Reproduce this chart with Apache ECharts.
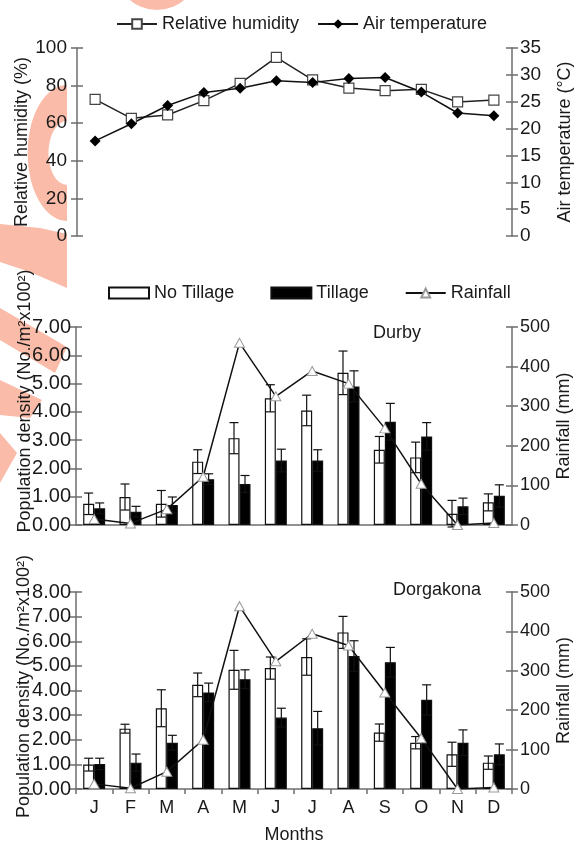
<!DOCTYPE html>
<html>
<head>
<meta charset="utf-8">
<script src="https://cdn.jsdelivr.net/npm/echarts@6/dist/echarts.min.js"></script>
<style>
  html, body { margin: 0; padding: 0; background: #fff; }
  #main { width: 578px; height: 844px; }
</style>
</head>
<body>
<div id="main"></div>
<script>
const months = ['J', 'F', 'M', 'A', 'M', 'J', 'J', 'A', 'S', 'O', 'N', 'D'];

// climate (top panel)
const humidity = [72.7, 62.6, 64.4, 72.0, 81.2, 95.0, 83.0, 78.7, 77.3, 78.0, 71.3, 72.3];
const airTemp = [17.7, 20.9, 24.3, 26.7, 27.5, 28.9, 28.6, 29.3, 29.5, 26.8, 22.9, 22.4];

// Durby
const durbyNoTill = [0.75, 0.99, 0.75, 2.24, 3.07, 4.48, 4.05, 5.38, 2.66, 2.39, 0.40, 0.80];
const durbyNoTillErr = [0.38, 0.46, 0.47, 0.42, 0.55, 0.48, 0.54, 0.77, 0.47, 0.54, 0.47, 0.30];
const durbyTill = [0.59, 0.47, 0.71, 1.62, 1.45, 2.28, 2.28, 4.90, 3.65, 3.13, 0.66, 1.03];
const durbyTillErr = [0.19, 0.19, 0.28, 0.19, 0.30, 0.40, 0.38, 0.55, 0.65, 0.49, 0.29, 0.39];
const durbyRain = [15, 4, 40, 122, 460, 325, 389, 357, 244, 104, 0, 5];

// Dorgakona
const dorgNoTill = [0.99, 2.45, 3.28, 4.23, 4.84, 4.91, 5.36, 6.36, 2.29, 1.88, 1.41, 1.07];
const dorgNoTillErr = [0.26, 0.18, 0.75, 0.48, 0.79, 0.45, 0.74, 0.65, 0.35, 0.25, 0.49, 0.27];
const dorgTill = [1.02, 1.07, 1.88, 3.92, 4.46, 2.90, 2.47, 5.40, 5.15, 3.62, 1.88, 1.41];
const dorgTillErr = [0.23, 0.35, 0.30, 0.38, 0.38, 0.38, 0.68, 0.62, 0.60, 0.61, 0.52, 0.42];
const dorgRain = [13, 2, 44, 125, 464, 324, 394, 364, 245, 129, 0, 4];

const font = 'Liberation Sans';
const narrow = '"Liberation Sans Narrow", "Liberation Sans"';
const txt = '#1a1a1a';
const grey = '#6e6e6e';
const wm = '#fabba8';

var chart = echarts.init(document.getElementById('main'), null, { renderer: 'canvas' });

function valueAxis(grid, side, min, max, step, name, gap, fmt, nameExtra, labelStyle) {
  return {
    type: 'value', gridIndex: grid, position: side,
    min: min, max: max, interval: step,
    name: name, nameLocation: 'middle', nameGap: gap, nameRotate: 90, nameMoveOverlap: false,
    nameTextStyle: Object.assign({ fontFamily: font, fontSize: 18, color: txt }, nameExtra || {}),
    axisLine: { show: true, lineStyle: { color: grey, width: 1.5 } },
    axisTick: { show: true, length: 6, lineStyle: { color: grey, width: 1.5 } },
    axisLabel: Object.assign({
      fontFamily: font, fontSize: 18, color: txt,
      margin: side === 'left' ? 10 : 8, formatter: fmt
    }, labelStyle || {}),
    splitLine: { show: false }
  };
}
// second copy of an axis, only for the inward half of the ticks
function innerTicks(grid, side, min, max, step) {
  return {
    type: 'value', gridIndex: grid, position: side, min: min, max: max, interval: step,
    axisLine: { show: false }, axisLabel: { show: false }, splitLine: { show: false },
    axisTick: { show: true, inside: true, length: 6, lineStyle: { color: grey, width: 1.5 } }
  };
}
function fix2(v) { return v.toFixed(2); }

function errorBars(values, errs, xi, yi, shift) {
  return {
    type: 'custom', xAxisIndex: xi, yAxisIndex: yi, z: 4, silent: true,
    encode: { x: 0, y: 1 },
    data: values.map(function (v, i) { return [i, v, errs[i]]; }),
    renderItem: function (params, api) {
      var i = api.value(0), v = api.value(1), e = api.value(2);
      var hi = api.coord([i, v + e]);
      var lo = api.coord([i, v - e]);
      var x = hi[0] + shift, c = 4.5;
      var st = { stroke: '#111', lineWidth: 1.2 };
      return {
        type: 'group', children: [
          { type: 'line', shape: { x1: x, y1: hi[1], x2: x, y2: lo[1] }, style: st },
          { type: 'line', shape: { x1: x - c, y1: hi[1], x2: x + c, y2: hi[1] }, style: st },
          { type: 'line', shape: { x1: x - c, y1: lo[1], x2: x + c, y2: lo[1] }, style: st }
        ]
      };
    }
  };
}
function barSeries(name, values, xi, yi, fill) {
  return {
    name: name, type: 'bar', xAxisIndex: xi, yAxisIndex: yi, data: values,
    barWidth: 11, barGap: '0%', z: 3,
    itemStyle: { color: fill, borderColor: '#111', borderWidth: 1.2 }
  };
}
function rainSeries(values, xi, yi) {
  return {
    name: 'Rainfall', type: 'line', xAxisIndex: xi, yAxisIndex: yi, data: values, z: 5,
    symbol: 'triangle', symbolSize: [10, 9],
    lineStyle: { color: '#111', width: 1.5 },
    itemStyle: { color: '#fff', borderColor: '#999', borderWidth: 1 }
  };
}

const densityLabels = { fontFamily: narrow, fontSize: 20, margin: 5 };

var option = {
  backgroundColor: '#fff',
  animation: false,
  textStyle: { fontFamily: font },
  grid: [
    { left: 77, right: 66, top: 48, height: 188, outerBoundsMode: 'none' },
    { left: 76, right: 66, top: 327, height: 198, outerBoundsMode: 'none' },
    { left: 76, right: 66, top: 592, height: 197, outerBoundsMode: 'none' }
  ],
  legend: [
    {
      left: 116, top: 14, padding: 0, itemWidth: 40, itemHeight: 12, itemGap: 18,
      data: ['Relative humidity', 'Air temperature'],
      textStyle: { fontFamily: font, fontSize: 18, color: txt, lineHeight: 20 }
    },
    {
      left: 108, top: 283, padding: 0, itemWidth: 40, itemHeight: 11, itemGap: 36,
      data: [{ name: 'No Tillage', icon: 'rect' }, { name: 'Tillage', icon: 'rect' }, 'Rainfall'],
      textStyle: { fontFamily: font, fontSize: 18, color: txt, lineHeight: 20 }
    }
  ],
  xAxis: [
    {
      type: 'category', gridIndex: 0, data: months,
      axisLine: { show: false }, axisTick: { show: false }, axisLabel: { show: false }
    },
    {
      type: 'category', gridIndex: 1, data: months,
      axisLine: { show: true, lineStyle: { color: grey, width: 1.5 } },
      axisTick: { show: false }, axisLabel: { show: false }
    },
    {
      type: 'category', gridIndex: 2, data: months,
      name: 'Months', nameLocation: 'middle', nameGap: 37, nameMoveOverlap: false,
      nameTextStyle: { fontFamily: font, fontSize: 18, color: txt },
      axisLine: { show: true, lineStyle: { color: grey, width: 1.5 } },
      axisTick: { show: true, length: 5, lineStyle: { color: grey, width: 1.5 } },
      axisLabel: { fontFamily: font, fontSize: 18, color: txt, margin: 10 }
    }
  ],
  yAxis: [
    valueAxis(0, 'left', 0, 100, 20, 'Relative humidity (%)', 46, null, null, { fontSize: 19 }),
    valueAxis(0, 'right', 0, 35, 5, 'Air temperature (°C)', 44, null, null, { fontSize: 19 }),
    valueAxis(1, 'left', 0, 7, 1, 'Population density (No./m²x100²)', 42, fix2, { padding: [0, 0, 0, 50] }, densityLabels),
    valueAxis(1, 'right', 0, 500, 100, 'Rainfall (mm)', 43),
    valueAxis(2, 'left', 0, 8, 1, 'Population density (No./m²x100²)', 43, fix2, { padding: [0, 0, 0, 8] }, densityLabels),
    valueAxis(2, 'right', 0, 500, 100, 'Rainfall (mm)', 43),
    innerTicks(0, 'left', 0, 100, 20),
    innerTicks(0, 'right', 0, 35, 5),
    innerTicks(1, 'left', 0, 7, 1),
    innerTicks(1, 'right', 0, 500, 100),
    innerTicks(2, 'left', 0, 8, 1),
    innerTicks(2, 'right', 0, 500, 100)
  ],
  series: [
    {
      name: 'Relative humidity', type: 'line', xAxisIndex: 0, yAxisIndex: 0, data: humidity,
      symbol: 'rect', symbolSize: 10,
      lineStyle: { color: '#222', width: 1.5 },
      itemStyle: { color: '#fff', borderColor: '#444', borderWidth: 1.2 }
    },
    {
      name: 'Air temperature', type: 'line', xAxisIndex: 0, yAxisIndex: 1, data: airTemp,
      symbol: 'diamond', symbolSize: 11,
      lineStyle: { color: '#111', width: 1.5 },
      itemStyle: { color: '#000' }
    },
    barSeries('No Tillage', durbyNoTill, 1, 2, '#fff'),
    barSeries('Tillage', durbyTill, 1, 2, '#000'),
    errorBars(durbyNoTill, durbyNoTillErr, 1, 2, -5.5),
    errorBars(durbyTill, durbyTillErr, 1, 2, 5.5),
    rainSeries(durbyRain, 1, 3),
    barSeries('No Tillage', dorgNoTill, 2, 4, '#fff'),
    barSeries('Tillage', dorgTill, 2, 4, '#000'),
    errorBars(dorgNoTill, dorgNoTillErr, 2, 4, -5.5),
    errorBars(dorgTill, dorgTillErr, 2, 4, 5.5),
    rainSeries(dorgRain, 2, 5)
  ],
  graphic: [
    // faint watermark shapes on the left edge
    { type: 'circle', silent: true, z: -10, shape: { cx: 157, cy: -32, r: 42 }, style: { fill: wm } },
    {
      type: 'sector', silent: true, z: -10, x: 67, y: 153, scaleX: 0.58,
      shape: { cx: 0, cy: 0, r0: 32, r: 68, startAngle: Math.PI / 2, endAngle: Math.PI * 1.5, clockwise: true },
      style: { fill: wm }
    },
    { type: 'polygon', silent: true, z: -10, shape: { points: [[0, 224], [40, 228], [67, 234], [67, 288], [30, 272], [0, 262]] }, style: { fill: wm } },
    { type: 'polygon', silent: true, z: -10, shape: { points: [[0, 308], [67, 347], [55, 373], [0, 340]] }, style: { fill: wm } },
    { type: 'polygon', silent: true, z: -10, shape: { points: [[0, 380], [42, 400], [30, 418], [0, 415]] }, style: { fill: wm } },
    { type: 'polygon', silent: true, z: -10, shape: { points: [[0, 433], [17, 453], [0, 483]] }, style: { fill: wm } },
    {
      type: 'text', x: 397, y: 333,
      style: { text: 'Durby', fontFamily: font, fontSize: 18, fill: txt, align: 'center', verticalAlign: 'middle' }
    },
    {
      type: 'text', x: 437, y: 590,
      style: { text: 'Dorgakona', fontFamily: font, fontSize: 18, fill: txt, align: 'center', verticalAlign: 'middle' }
    }
  ]
};

chart.setOption(option);
window.addEventListener('resize', chart.resize);
</script>
</body>
</html>
